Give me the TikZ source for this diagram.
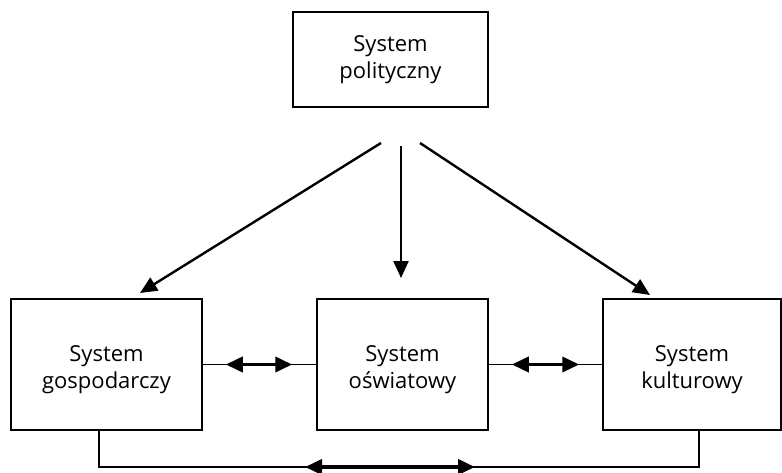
\documentclass[tikz,border=0pt]{standalone}
\usepackage{fontspec}
\setmainfont{Open Sans}
\usetikzlibrary{shapes, arrows.meta}

\begin{document}
\begin{tikzpicture}[x=1pt, y=1pt, node distance=296pt, auto, >={Triangle[length=17pt, width=15pt]}]
    \tikzstyle{block} = [rectangle, draw, line width=1.5pt, text width=170pt, align=center, minimum width=191pt, minimum height=131pt, inner sep=0pt, font=\fontsize{22}{27}\selectfont]
    \tikzstyle{line} = [draw, ->, line width=2.4pt]
    \tikzstyle{link} = [draw, line width=1.5pt]
    \tikzstyle{dbl} = [draw, <->, line width=3.8pt]

    \useasboundingbox (0,0) rectangle (782,472);

    % Nodes
    \node [block] (gosp) at (106.5,107.5) {\rule{0pt}{27pt}System \\ gospodarczy};
    \node [block, right of=gosp, minimum width=171pt] (osw) {\rule{0pt}{27pt}System \\ oświatowy};
    \node [block, right of=osw, node distance=289.5pt, minimum width=178pt] (kult) {\rule{0pt}{27pt}System \\ kulturowy};
    \node [block, minimum width=195pt, minimum height=95pt] (pol) at (390.5,412.5) {System \\ polityczny};

    % Start and turning points
    \coordinate (sl) at (381,329);
    \coordinate (sm) at (401,326);
    \coordinate (sr) at (420,329);
    \coordinate (el) at (140,179);
    \coordinate (em) at (401,194);
    \coordinate (er) at (650,177);
    \coordinate (lo) at (99,5);
    \coordinate (ro) at (699,5);

    % Paths
    \path [line] (sl) -- (el);
    \path [line] (sm) -- (em);
    \path [line] (sr) -- (er);

    \path [link] (gosp) -- (osw);
    \path [dbl, shorten <=23pt, shorten >=24pt] (gosp.east) -- (osw.west);
    \path [link] (osw) -- (kult);
    \path [dbl, shorten <=23pt, shorten >=23pt] (osw.east) -- (kult.west);

    \path [link] (gosp.south -| lo) -- (lo) -- (ro) -- (kult.south -| ro);
    \path [dbl, shorten <=206pt, shorten >=224pt] (lo) -- (ro);

\end{tikzpicture}
\end{document}
